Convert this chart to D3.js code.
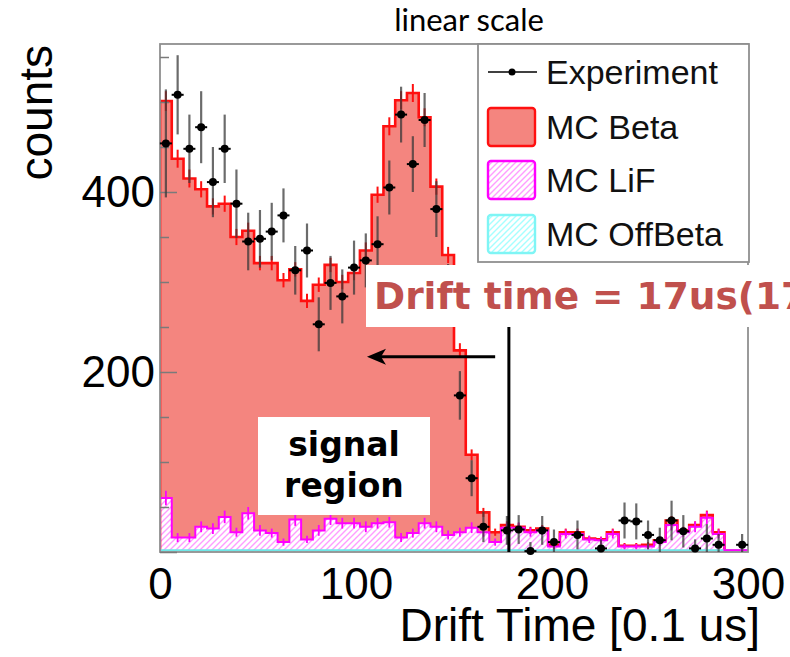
<!DOCTYPE html>
<html><head><meta charset="utf-8">
<script src="https://cdn.jsdelivr.net/npm/d3@7"></script>
<style>body{margin:0;background:#fff}svg{display:block}</style>
</head><body>
<svg id="c" width="790" height="657"></svg>
<script>
// ---------- data ----------
const binLow = [0,6,12,18,24,30,36,42,48,54,60,66,72,78,84,90,96,102,108,114,120,126,132,138,144,150,156,162,168,174,180,186,192,198,204,210,216,222,228,234,240,246,252,258,264,270,276,282,288,294];
const binWidth = 6;
const mcBeta = [441,421,399,375,358,348,328,314,297,300,291,278,265,273,282,268,278,307,365,440,486,489,451,378,311,202,81,22,11,3,1,2,2,2,2,2,1,1,2,1,1,2,2,5,2,2,3,2,0,0];
const mcLiF = [58,14,14,26,24,37,20,41,22,19,9,34,12,22,35,30,30,26,30,31,14,19,30,26,17,20,25,20,9,25,25,20,22,4,18,18,12,11,18,4,4,4,9,28,20,26,36,18,0,0];
const mcOffBeta = [2,2,2,2,2,2,2,2,2,2,2,2,2,2,2,2,2,2,2,2,2,2,2,2,2,2,2,2,2,2,2,2,2,2,2,2,2,2,2,2,2,2,2,2,2,2,2,2,2,2];
const betaErr = [11,10,10,9,9,9,9,9,8,8,8,8,8,8,8,8,8,9,9,10,10,10,10,9,9,8,6,5,4,4,4,4,4,3,4,4,3,3,4,3,3,3,3,5,4,4,5,4,0,0];
const lifErr = [8,5,5,6,6,7,5,7,6,5,4,7,4,6,7,6,6,6,6,6,5,5,6,6,5,5,6,5,4,6,6,5,5,3,5,5,4,4,5,3,3,3,4,6,5,6,7,5,0,0];
const expCounts = [454,508,448,472,411,448,387,345,348,356,374,313,335,253,299,284,316,324,342,405,486,431,480,381,290,174,82,28,null,24,25,1,24,11,null,19,null,4,null,35,34,19,13,35,23,4,15,8,null,8];
const expErr = [60,44,38,40,39,38,38,32,32,32,30,27,30,30,30,30,30,30,31,30,31,31,30,31,30,27,20,17,0,16,16,10,16,14,0,16,0,10,0,20,20,16,14,22,18,10,16,12,0,12];
const xTicks = [0,100,200,300];
const yLabelTicks = [200,400];
const yMajorTicks = [0,200,400];
const yMinorTicks = [50,100,150,250,300,350,450,500,550];
const legendLabels = ["Experiment","MC Beta","MC LiF","MC OffBeta"];

// ---------- scales ----------
const svg = d3.select("#c");
const x = d3.scaleLinear().domain([0,300]).range([160,748]);
const y = d3.scaleLinear().domain([0,400]).range([552,192]);
const yTopVal = y.invert(44);

const offLvl = mcOffBeta.slice();
const lifLvl = mcLiF.map((v,i)=>v+offLvl[i]);
const totLvl = mcBeta.map((v,i)=>v+lifLvl[i]);

const defs = svg.append("defs");
defs.append("clipPath").attr("id","plotClip").append("rect")
  .attr("x",x(0)).attr("y",y(yTopVal)).attr("width",x(300)-x(0)).attr("height",y(0)-y(yTopVal));
function hatch(id, col){
  const p = defs.append("pattern").attr("id",id).attr("patternUnits","userSpaceOnUse")
    .attr("width",6).attr("height",6);
  p.append("rect").attr("width",6).attr("height",6).attr("fill","#fff");
  p.append("path").attr("d","M-1,1 l2,-2 M0,6 l6,-6 M5,7 l2,-2")
    .attr("stroke",col).attr("stroke-width",1.4);
}
hatch("hLiF","#ff9dff");
hatch("hOff","#a6ffff");

function stepPts(levels){
  const pts = [[binLow[0],0]];
  levels.forEach((v,i)=>{ pts.push([binLow[i],v]); pts.push([binLow[i]+binWidth,v]); });
  pts.push([binLow[binLow.length-1]+binWidth,0]);
  return pts;
}
const area = d3.area().x(d=>x(d[0])).y0(y(0)).y1(d=>y(d[1]));
const line = d3.line().x(d=>x(d[0])).y(d=>y(d[1]));

const plot = svg.append("g").attr("clip-path","url(#plotClip)");
plot.append("path").attr("d",area(stepPts(totLvl))).attr("fill","#f4857f");
plot.append("path").attr("d",area(stepPts(lifLvl))).attr("fill","url(#hLiF)");
plot.append("path").attr("d",line(stepPts(totLvl))).attr("fill","none").attr("stroke","#ff1010").attr("stroke-width",2.6);
plot.append("g").selectAll("line").data(totLvl).join("line")
  .attr("x1",(d,i)=>x(binLow[i]+binWidth/2)).attr("x2",(d,i)=>x(binLow[i]+binWidth/2))
  .attr("y1",(d,i)=>y(d-betaErr[i])).attr("y2",(d,i)=>y(d+betaErr[i]))
  .attr("stroke","#ff1010").attr("stroke-width",2);
plot.append("path").attr("d",area(stepPts(offLvl))).attr("fill","url(#hOff)");
plot.append("path").attr("d",line(stepPts(offLvl))).attr("fill","none").attr("stroke","#6fe8e8").attr("stroke-width",2);
plot.append("path").attr("d",line(stepPts(lifLvl))).attr("fill","none").attr("stroke","#ff00ff").attr("stroke-width",2);
plot.append("g").selectAll("line").data(lifLvl).join("line")
  .attr("x1",(d,i)=>x(binLow[i]+binWidth/2)).attr("x2",(d,i)=>x(binLow[i]+binWidth/2))
  .attr("y1",(d,i)=>y(d-lifErr[i])).attr("y2",(d,i)=>y(d+lifErr[i]))
  .attr("stroke","#ff00ff").attr("stroke-width",1.8);

// frame
svg.append("rect").attr("x",x(0)).attr("y",y(yTopVal)).attr("width",x(300)-x(0)).attr("height",y(0)-y(yTopVal))
  .attr("fill","none").attr("stroke","#8f8f8f").attr("stroke-width",1.8);

// y ticks (inside)
const yMaj = svg.append("g").attr("transform",`translate(${x(0)},0)`)
  .call(d3.axisRight(y).tickValues(yMajorTicks).tickSize(17).tickFormat(""));
const yMin = svg.append("g").attr("transform",`translate(${x(0)},0)`)
  .call(d3.axisRight(y).tickValues(yMinorTicks).tickSize(9).tickFormat(""));
[yMaj,yMin].forEach(g=>{ g.select(".domain").remove(); g.selectAll("line").attr("stroke","#7a7a7a").attr("stroke-width",1.5); });

// y labels
const yLab = svg.append("g").attr("transform",`translate(${x(0)},0)`)
  .call(d3.axisLeft(y).tickValues(yLabelTicks).tickSize(0).tickPadding(5).tickFormat(d3.format("d")));
yLab.select(".domain").remove();
yLab.selectAll("text").attr("font-family","Liberation Sans, Arial, sans-serif").attr("font-size",44).attr("fill","#000");

// x labels
const xLab = svg.append("g").attr("transform",`translate(0,${y(0)})`)
  .call(d3.axisBottom(x).tickValues(xTicks).tickSize(0).tickPadding(16).tickFormat(d3.format("d")));
xLab.select(".domain").remove();
xLab.selectAll("text").attr("font-family","Liberation Sans, Arial, sans-serif").attr("font-size",44).attr("fill","#000");

// axis titles
svg.append("text").attr("x",760).attr("y",641).attr("text-anchor","end")
  .attr("font-family","Liberation Sans, Arial, sans-serif").attr("font-size",46).text("Drift Time [0.1 us]");
svg.append("text").attr("transform","translate(52,45) rotate(-90)").attr("text-anchor","end")
  .attr("font-family","Liberation Sans, Arial, sans-serif").attr("font-size",46).text("counts");
svg.append("text").attr("x",469).attr("y",31).attr("text-anchor","middle")
  .attr("font-family","Lato, sans-serif").attr("font-size",31).text("linear scale");

// experiment points
const pts = expCounts.map((v,i)=>({c:binLow[i]+binWidth/2, v, e:expErr[i]})).filter(d=>d.v!==null);
const ep = svg.append("g");
ep.selectAll("line.eb").data(pts).join("line").attr("class","eb")
  .attr("x1",d=>x(d.c)).attr("x2",d=>x(d.c))
  .attr("y1",d=>y(Math.max(0,d.v-d.e))).attr("y2",d=>y(d.v+d.e))
  .attr("stroke","#3a3a3a").attr("stroke-opacity",0.75).attr("stroke-width",2.2);
ep.selectAll("line.hb").data(pts).join("line").attr("class","hb")
  .attr("x1",d=>x(d.c)-6).attr("x2",d=>x(d.c)+6).attr("y1",d=>y(d.v)).attr("y2",d=>y(d.v))
  .attr("stroke","#000").attr("stroke-width",2);
ep.selectAll("circle").data(pts).join("circle")
  .attr("cx",d=>x(d.c)).attr("cy",d=>y(d.v)).attr("r",4).attr("fill","#000");

// legend
const lg = svg.append("g");
lg.append("rect").attr("x",478).attr("y",44).attr("width",271).attr("height",218)
  .attr("fill","#fff").attr("stroke","#8f8f8f").attr("stroke-width",1.8);
const rowY = [72,127,180,234];
lg.append("line").attr("x1",488).attr("x2",537).attr("y1",rowY[0]).attr("y2",rowY[0]).attr("stroke","#000").attr("stroke-width",1.5);
lg.append("circle").attr("cx",512).attr("cy",rowY[0]).attr("r",3.5).attr("fill","#000");
const sw = [null,{f:"#f4857f",s:"#ff1010"},{f:"url(#hLiF)",s:"#ff00ff"},{f:"url(#hOff)",s:"#7ff5f5"}];
for(let k=1;k<4;k++){
  lg.append("rect").attr("x",488).attr("y",rowY[k]-19).attr("width",47).attr("height",38).attr("rx",3)
    .attr("fill",sw[k].f).attr("stroke",sw[k].s).attr("stroke-width",2.4);
}
lg.selectAll("text").data(legendLabels).join("text")
  .attr("x",546).attr("y",(d,i)=>rowY[i]+12)
  .attr("font-family","Liberation Sans, Arial, sans-serif").attr("font-size",34).attr("fill","#111").text(d=>d);

// annotations
const ann = svg.append("g");
const cutTime = 178;
ann.append("rect").attr("x",366).attr("y",265).attr("width",440).attr("height",62).attr("fill","#fff");
ann.append("text").attr("x",374).attr("y",309).attr("font-family","DejaVu Sans, sans-serif").attr("font-weight",700)
  .attr("font-size",37.5).attr("fill","#c0504d").text("Drift time = 17us(170 bins)");
ann.append("line").attr("x1",x(cutTime)).attr("x2",x(cutTime)).attr("y1",327).attr("y2",y(0))
  .attr("stroke","#000").attr("stroke-width",3);
const arrY = y(217), arrTail = x(171), arrTip = x(105.6);
ann.append("line").attr("x1",arrTail).attr("x2",arrTip+12).attr("y1",arrY).attr("y2",arrY).attr("stroke","#000").attr("stroke-width",3);
ann.append("path").attr("d",`M${arrTip},${arrY} L${arrTip+19},${arrY-8} L${arrTip+14},${arrY} L${arrTip+19},${arrY+8} Z`).attr("fill","#000");
ann.append("rect").attr("x",258).attr("y",417).attr("width",172).attr("height",98).attr("fill","#fff");
ann.append("text").attr("x",344).attr("y",456).attr("text-anchor","middle").attr("font-family","DejaVu Sans, sans-serif")
  .attr("font-weight",700).attr("font-size",33).attr("fill","#000").text("signal");
ann.append("text").attr("x",344).attr("y",497).attr("text-anchor","middle").attr("font-family","DejaVu Sans, sans-serif")
  .attr("font-weight",700).attr("font-size",33).attr("fill","#000").text("region");
</script>
</body></html>
